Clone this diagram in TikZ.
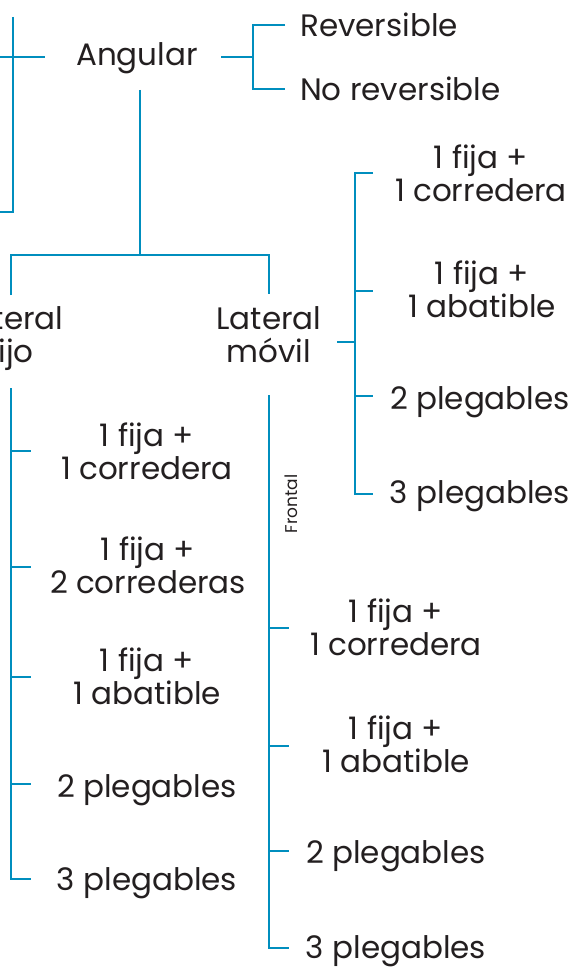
\documentclass[tikz,border=0pt]{standalone}
\usepackage{fontspec}
\setmainfont{Poppins}
\definecolor{lc}{RGB}{0,142,190}
\definecolor{tx}{RGB}{35,31,32}
\begin{document}
\begin{tikzpicture}[x=1pt,y=-1pt,
  ln/.style={draw=lc, line width=2.2pt},
  lbl/.style={text=tx, font=\fontsize{31}{33}\selectfont, align=center, anchor=base, inner sep=0pt},
  sml/.style={text=tx, font=\fontsize{17}{19}\selectfont, inner sep=0pt, rotate=90}]
\useasboundingbox (0,0) rectangle (574,968);
% top-left partial bracket
\coordinate (tlA) at (13,17);
\coordinate (tlB) at (13,212);
\coordinate (tlC) at (0,212);
\coordinate (hL) at (0,57);
\coordinate (hR) at (45,57);
\draw[ln] (tlA) -- (tlB) -- (tlC);
\draw[ln] (hL) -- (hR);
% Angular
\node[lbl] (ang) at (137,66) {Angular};
\coordinate (angR) at (221,57);
\coordinate (angJ) at (253,57);
\node[lbl, anchor=base west] (rev) at (300,37) {Reversible};
\node[lbl, anchor=base west] (norev) at (300,101) {No reversible};
\draw[ln] (angR) -- (angJ);
\draw[ln] (285,25) -- (253,25) -- (253,89) -- (285,89);
% Angular down
\coordinate (angD) at (140,90);
\coordinate (angJ2) at (140,255);
\draw[ln] (angD) -- (angJ2);
\draw[ln] (11,295) -- (11,255) -- (269,255) -- (269,294);
\node[lbl] (lf) at (11,362) {Lateral\\fijo};
\node[lbl] (lm) at (269,362) {Lateral\\móvil};
% right bracket of Lateral movil
\draw[ln] (337,342) -- (355,342);
\draw[ln] (373,173) -- (355,173) -- (355,494) -- (373,494);
\draw[ln] (355,291) -- (373,291);
\draw[ln] (355,396) -- (373,396);
\node[lbl] (r1) at (481,202) {1 fija +\\1 corredera};
\node[lbl] (r2) at (482,317) {1 fija +\\1 abatible};
\node[lbl] (r3) at (480,409) {2 plegables};
\node[lbl] (r4) at (480,503) {3 plegables};
% left lower bracket (Lateral fijo)
\draw[ln] (11,388) -- (11,879) -- (31,879);
\foreach \yy in {451,567,677,784} \draw[ln] (11,\yy) -- (31,\yy);
\node[lbl] (f1) at (147,479) {1 fija +\\1 corredera};
\node[lbl] (f2) at (148,593) {1 fija +\\2 correderas};
\node[lbl] (f3) at (147,704) {1 fija +\\1 abatible};
\node[lbl] (f4) at (147,797) {2 plegables};
\node[lbl] (f5) at (147,890) {3 plegables};
% mid lower bracket (Frontal)
\draw[ln] (269,395) -- (269,948) -- (289,948);
\foreach \yy in {628,746,851} \draw[ln] (269,\yy) -- (289,\yy);
\node[sml] (fr) at (291,504) {Frontal};
\node[lbl] (m1) at (396,655) {1 fija +\\1 corredera};
\node[lbl] (m2) at (396,772) {1 fija +\\1 abatible};
\node[lbl] (m3) at (396,863) {2 plegables};
\node[lbl] (m4) at (396,958) {3 plegables};
\end{tikzpicture}
\end{document}
